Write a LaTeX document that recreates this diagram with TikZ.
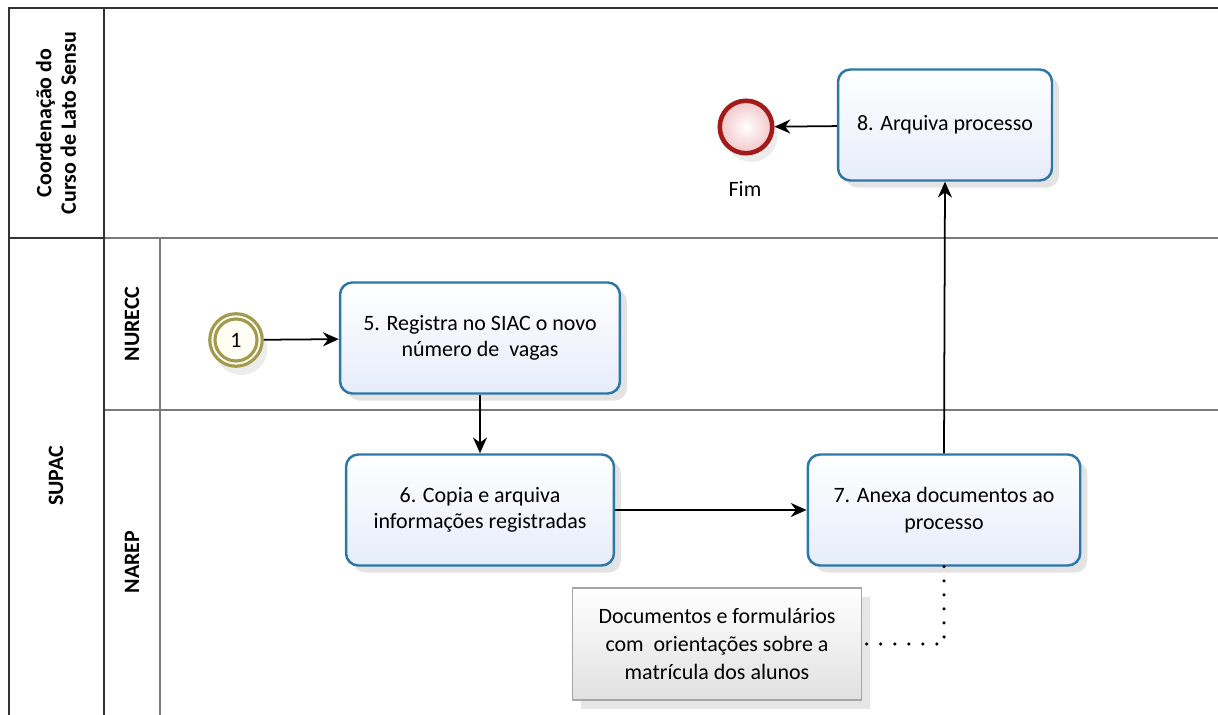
\documentclass[tikz,border=0pt]{standalone}
\usepackage{fontspec}
\setmainfont{Carlito}
\usetikzlibrary{shadows,arrows.meta}
\definecolor{taskblue}{HTML}{2B77A8}
\definecolor{taskfill}{HTML}{E6ECFA}
\definecolor{endred}{HTML}{A31A1A}
\definecolor{endfill}{HTML}{F2C6C8}
\definecolor{olive}{HTML}{A29A4E}
\definecolor{lanegray}{HTML}{7A7A7A}
\begin{document}
\begin{tikzpicture}[x=0.02cm, y=-0.02cm,
        t/.style={draw=taskblue, line width=1.4pt, rounded corners=7pt, top color=white, bottom color=taskfill,
            minimum width=5.45cm, minimum height=2.22cm, font=\fontsize{12.5}{15}\selectfont,
            drop shadow={opacity=0.22, shadow xshift=4pt, shadow yshift=-4pt}},
        ev/.style={circle, inner sep=0pt, minimum size=1.05cm},
        h/.style={rotate=90, font=\bfseries\fontsize{12.5}{14}\selectfont},
        f/.style={-{Stealth[length=9pt, width=8pt]}, line width=1pt},
        every node/.style={align=center}]
        \useasboundingbox (0,0) rectangle (1218,715);

        % lanes
        \draw[lanegray, line width=0.8pt] (104,238) -- (1218,238);
        \draw[lanegray, line width=0.8pt] (104,410) -- (1218,410);
        \draw[lanegray, line width=0.8pt] (160,238) -- (160,715);
        \draw[black!80, line width=1.2pt] (1218,8) -- (9,8) -- (9,715);
        \draw[black!80, line width=1pt] (104,8) -- (104,715);
        \draw[black!80, line width=1pt] (9,238) -- (104,238);

        \node[h] (lcoord) at (56,123) {Coordenação do\\Curso de Lato Sensu};
        \node[h] (lsupac) at (56,476) {SUPAC};
        \node[h] (lnurecc) at (132,324) {NURECC};
        \node[h] (lnarep) at (132,562) {NAREP};

        % events
        \node[ev, draw=olive, line width=1.8pt, fill=yellow!4,
            drop shadow={opacity=0.15, shadow xshift=3pt, shadow yshift=-5pt}] (start) at (236,340) {};
        \node[ev, minimum size=0.84cm, draw=olive, line width=1.8pt, font=\fontsize{12.5}{14}\selectfont] (startin) at (236,340) {1};
        \node[ev, draw=endred, line width=2.6pt, inner color=white, outer color=endfill,
            drop shadow={opacity=0.15, shadow xshift=3pt, shadow yshift=-5pt}] (fim) at (746,127) {};
        \node[font=\fontsize{12.5}{15}\selectfont] (lfim) at (745,189) {Fim};

        % tasks
        \node[t, minimum width=5.6cm] (t5) at (480,338) {5. Registra no SIAC o novo\\número de\ \ vagas};
        \node[t, minimum width=5.36cm] (t6) at (480,510) {6. Copia e arquiva\\informações registradas};
        \node[t] (t7) at (944,510) {7. Anexa documentos ao\\processo};
        \node[t, minimum width=4.28cm] (t8) at (945,125) {8. Arquiva processo};

        % annotation
        \node[draw=black!35, line width=0.6pt, top color=white, bottom color=black!12,
            minimum width=5.78cm, minimum height=2.24cm, font=\fontsize{12.5}{16}\selectfont,
            drop shadow={opacity=0.2, shadow xshift=5pt, shadow yshift=-5pt}] (doc) at (717,644)
            {Documentos e formulários\\com\ \ orientações sobre a\\matrícula dos alunos};

        % flows
        \draw[f] (start) -- (t5);
        \draw[f] (t5.south) -- (t6.north);
        \draw[f] (t6) -- (t7);
        \draw[f] (t7.north) -- (t8.south);
        \draw[f] (t8) -- (fim);
        \draw[line width=2pt, dash pattern=on 0pt off 8pt, line cap=round] (t7.south) |- (doc.east);
    \end{tikzpicture}
\end{document}
